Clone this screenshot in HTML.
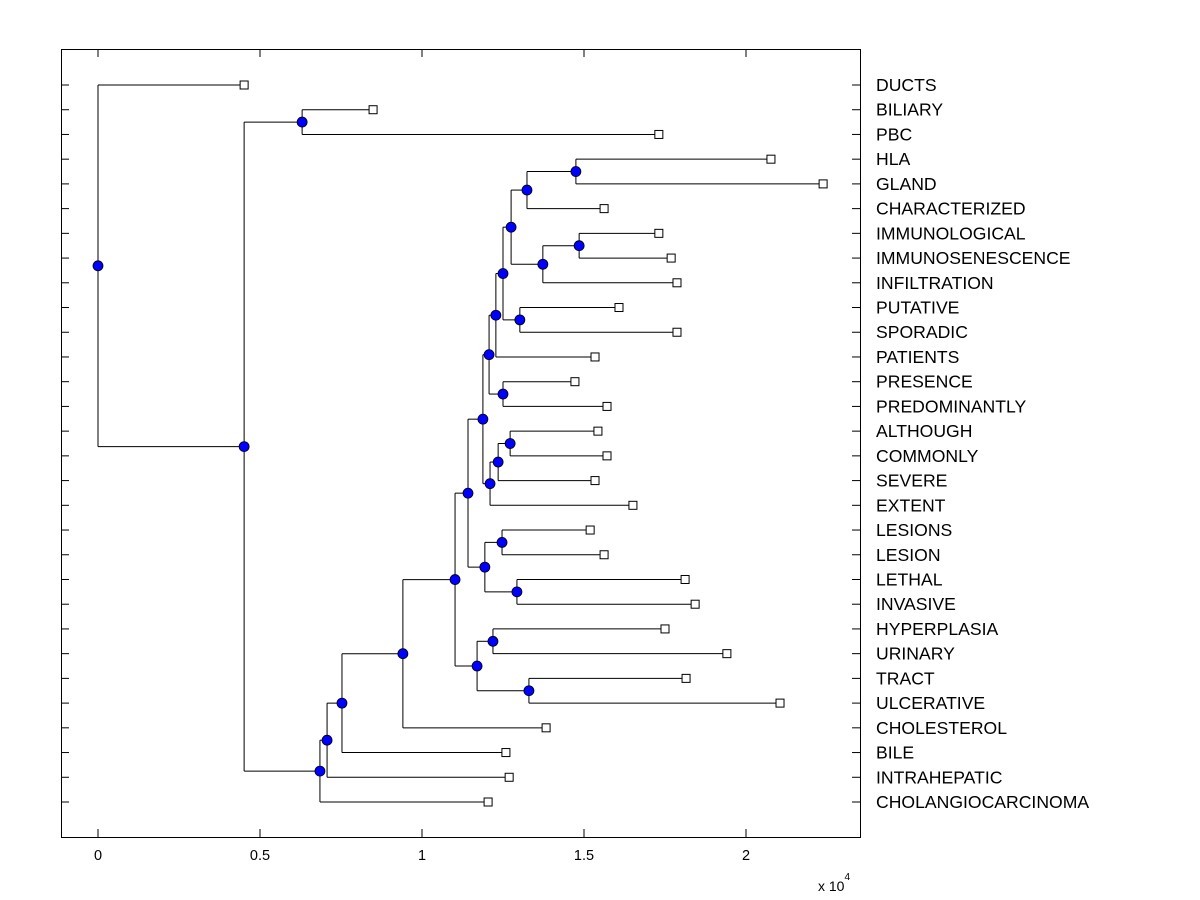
<!DOCTYPE html>
<html><head><meta charset="utf-8"><style>
body{margin:0;background:#fff;}
svg{display:block;font-family:"Liberation Sans",Arial,sans-serif;}
</style></head><body>
<svg id="chart" width="1200" height="900" viewBox="0 0 1200 900" xmlns="http://www.w3.org/2000/svg">
<rect x="0" y="0" width="1200" height="900" fill="#fff"/>
<g id="marks"></g>
<rect x="61.5" y="49.5" width="799" height="788" fill="none" stroke="#000" stroke-width="1"/>
<g id="axes"></g>
<text x="818" y="891" font-size="14">x 10<tspan dy="-11" font-size="10">4</tspan></text>
</svg>
<script>
const leafLabels=["DUCTS","BILIARY","PBC","HLA","GLAND","CHARACTERIZED","IMMUNOLOGICAL","IMMUNOSENESCENCE","INFILTRATION","PUTATIVE","SPORADIC","PATIENTS","PRESENCE","PREDOMINANTLY","ALTHOUGH","COMMONLY","SEVERE","EXTENT","LESIONS","LESION","LETHAL","INVASIVE","HYPERPLASIA","URINARY","TRACT","ULCERATIVE","CHOLESTEROL","BILE","INTRAHEPATIC","CHOLANGIOCARCINOMA"];
const leafHeights=[0.451,0.849,1.731,2.077,2.238,1.562,1.731,1.769,1.787,1.608,1.787,1.534,1.472,1.571,1.543,1.571,1.534,1.651,1.519,1.562,1.812,1.843,1.750,1.941,1.815,2.105,1.383,1.259,1.269,1.204];
const mergeA=[3,30,6,32,31,9,34,36,12,37,14,40,41,39,18,20,44,43,22,24,48,47,51,52,53,54,1,56,0];
const mergeB=[4,5,7,8,33,10,35,11,13,38,15,16,17,42,19,21,45,46,23,25,49,50,26,27,28,29,2,55,57];
const mergeHeights=[1.475,1.324,1.485,1.373,1.275,1.302,1.250,1.228,1.250,1.207,1.272,1.235,1.210,1.188,1.247,1.293,1.194,1.142,1.219,1.330,1.170,1.102,0.941,0.753,0.707,0.685,0.630,0.451,0];
const xTicks=[0,0.5,1,1.5,2];
const xTickLabels=["0","0.5","1","1.5","2"];

const NS="http://www.w3.org/2000/svg";
const X=v=>98+v*324;
const Y=i=>85+i*(802-85)/(leafLabels.length-1);
const marks=document.getElementById('marks');
const axes=document.getElementById('axes');
function mk(tag,attrs,parent){const e=document.createElementNS(NS,tag);for(const k in attrs)e.setAttribute(k,attrs[k]);parent.appendChild(e);return e;}
const n=leafLabels.length;
const px=[],py=[];
for(let i=0;i<n;i++){px[i]=X(leafHeights[i]);py[i]=Y(i);}
for(let k=0;k<mergeA.length;k++){const id=n+k,a=mergeA[k],b=mergeB[k];px[id]=X(mergeHeights[k]);py[id]=(py[a]+py[b])/2;}
for(let k=0;k<mergeA.length;k++){
  const id=n+k,a=mergeA[k],b=mergeB[k];
  const v=mk('line',{x1:px[id],y1:py[a],x2:px[id],y2:py[b],stroke:'#000','stroke-width':1},marks);
  
  
  [a,b].forEach(c=>{
    const h=mk('line',{x1:px[id],y1:py[c],x2:px[c],y2:py[c],stroke:'#000','stroke-width':1},marks);
    
    
  });
}
for(let i=0;i<n;i++){
  const s=mk('rect',{x:px[i]-4,y:py[i]-4,width:8,height:8,fill:'#fff',stroke:'#000','stroke-width':1},marks);
  
  
  const t=mk('text',{x:876,y:py[i]+6,'font-size':17.6,fill:'#000'},axes);
  t.textContent=leafLabels[i];
  
  
  const tl=mk('line',{x1:61,y1:py[i],x2:69,y2:py[i],stroke:'#000'},axes);
  
  
  const tr=mk('line',{x1:852,y1:py[i],x2:860,y2:py[i],stroke:'#000'},axes);
  
  
}
for(let k=0;k<mergeA.length;k++){
  const id=n+k;
  const c=mk('circle',{cx:px[id],cy:py[id],r:5,fill:'#0000ff',stroke:'#000','stroke-width':0.8},marks);
  
  
}
xTicks.forEach((v,i)=>{
  const x=X(v);
  const tb=mk('line',{x1:x,y1:837,x2:x,y2:829,stroke:'#000'},axes);
  
  
  const tt=mk('line',{x1:x,y1:49,x2:x,y2:57,stroke:'#000'},axes);
  
  
  const t=mk('text',{x:x,y:860,'font-size':14.5,'text-anchor':'middle'},axes);
  t.textContent=xTickLabels[i];
  
  
});
</script>
</body></html>
